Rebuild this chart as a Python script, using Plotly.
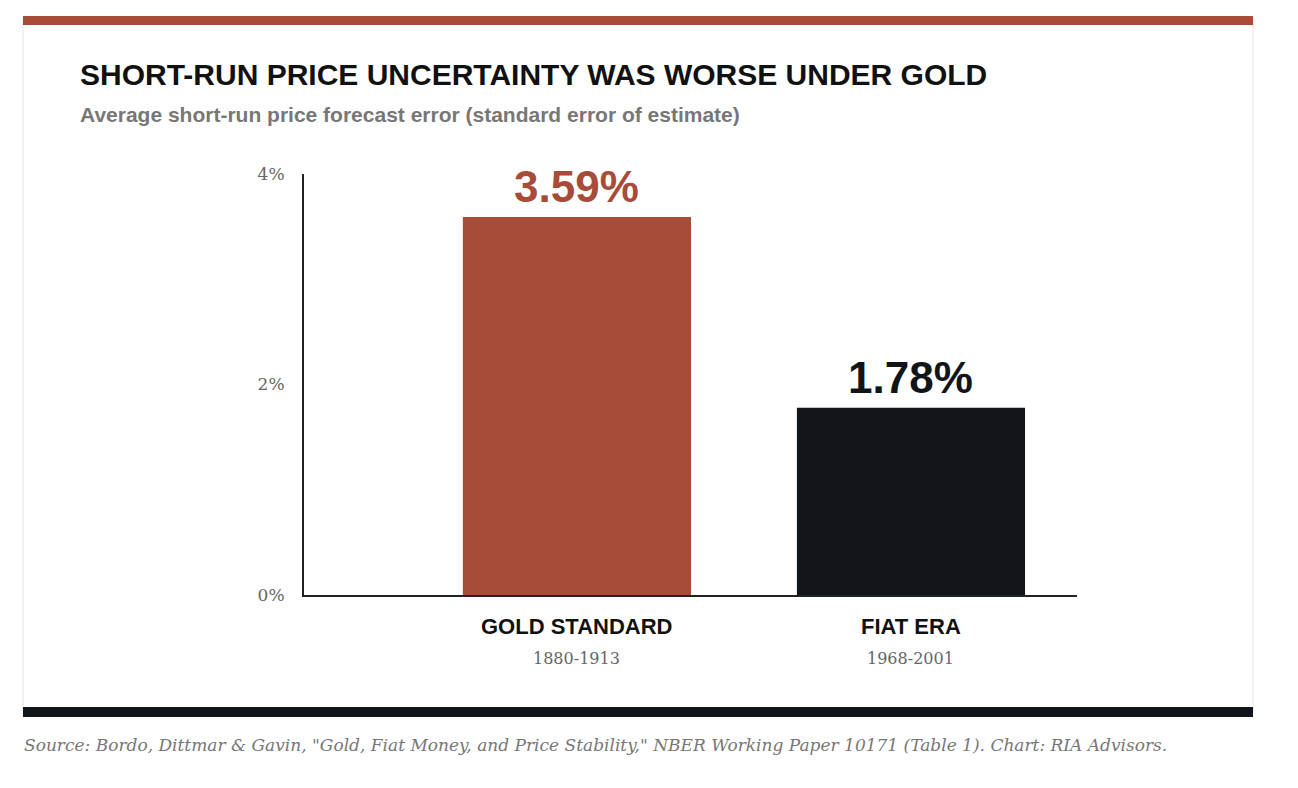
import plotly.graph_objects as go

# data
categories = ['GOLD STANDARD', 'FIAT ERA']
periods = ['1880-1913', '1968-2001']
values = [3.59, 1.78]
value_labels = ['3.59%', '1.78%']
tick_vals = [0, 2, 4]
tick_text = ['0%', '2%', '4%']

W, H = 1298, 788
RED = '#A84C3A'
DARK = '#111418'
bar_colors = [RED, DARK]

# map screen pixel positions to paper coords (compensates page offset)
def px(x):
    return (x - 8) / W

def py(y):
    return 1 - ((y - 17) / 0.976) / H

fig = go.Figure(go.Bar(
    x=[0, 1], y=values, width=0.683,
    marker=dict(color=bar_colors, line=dict(width=0)),
    hoverinfo='skip',
))

for i, (v, lab) in enumerate(zip(values, value_labels)):
    fig.add_annotation(x=i, y=v, xref='x', yref='y', text=f'<b>{lab}</b>',
                       showarrow=False, yanchor='bottom', yshift=4,
                       font=dict(family='Liberation Sans, Arial', size=44, color=bar_colors[i]))
    fig.add_annotation(x=i, y=py(641), xref='x', yref='paper', text=f'<b>{categories[i]}</b>',
                       showarrow=False, font=dict(family='Liberation Sans, Arial', size=22, color='#111'))
    fig.add_annotation(x=i, y=py(670), xref='x', yref='paper', text=periods[i],
                       showarrow=False, font=dict(family='DejaVu Serif, Georgia', size=16, color='#666'))

# card, top and bottom bars
fig.add_shape(type='rect', xref='paper', yref='paper', x0=px(23), x1=px(1253), y0=py(712), y1=py(17),
              line=dict(color='#e6e6e6', width=1), fillcolor='white', layer='below')
fig.add_shape(type='rect', xref='paper', yref='paper', x0=px(23), x1=px(1253), y0=py(24), y1=py(15),
              line=dict(width=0), fillcolor=RED, layer='below')
fig.add_shape(type='rect', xref='paper', yref='paper', x0=px(23), x1=px(1253), y0=py(717), y1=py(707),
              line=dict(width=0), fillcolor=DARK, layer='below')

fig.add_annotation(x=px(78), y=py(55), xref='paper', yref='paper', xanchor='left', showarrow=False,
                   text='<b>SHORT-RUN PRICE UNCERTAINTY WAS WORSE UNDER GOLD</b>',
                   font=dict(family='Liberation Sans, Arial', size=30, color='#111'))
fig.add_annotation(x=px(78), y=py(100), xref='paper', yref='paper', xanchor='left', showarrow=False,
                   text='<b>Average short-run price forecast error (standard error of estimate)</b>',
                   font=dict(family='Liberation Sans, Arial', size=21, color='#777'))
fig.add_annotation(x=px(22), y=py(757), xref='paper', yref='paper', xanchor='left', showarrow=False,
                   text='<i>Source: Bordo, Dittmar &amp; Gavin, "Gold, Fiat Money, and Price Stability," '
                        'NBER Working Paper 10171 (Table 1). Chart: RIA Advisors.</i>',
                   font=dict(family='DejaVu Serif, Georgia', size=17, color='#777'))

fig.update_layout(
    width=W, height=H, margin=dict(l=0, r=0, t=0, b=0),
    paper_bgcolor='white', plot_bgcolor='white', showlegend=False,
    xaxis=dict(domain=[px(304), px(1077)], range=[-0.817, 1.497], showticklabels=False,
               showgrid=False, zeroline=False, showline=True, linecolor='#222', linewidth=2, fixedrange=True),
    yaxis=dict(domain=[py(595), py(173)], range=[0, 4], tickvals=tick_vals, ticktext=tick_text,
               showgrid=False, zeroline=False, showline=True, linecolor='#222', linewidth=2,
               ticks='', ticklabelstandoff=14,
               tickfont=dict(family='DejaVu Serif, Georgia', size=17, color='#666'), fixedrange=True),
)

fig.write_html('out.html')
